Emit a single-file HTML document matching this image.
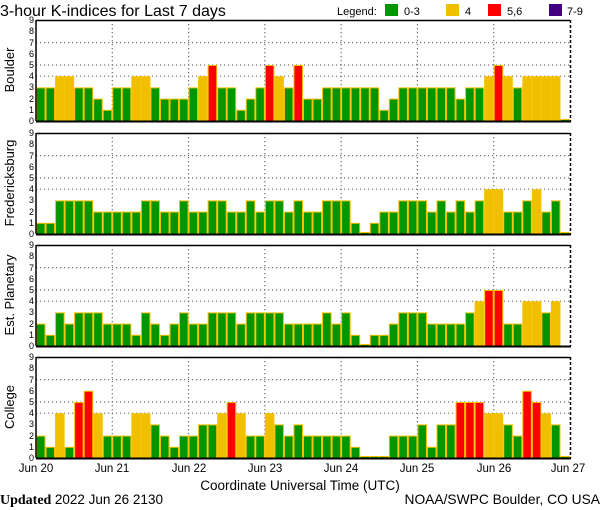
<!DOCTYPE html>
<html><head><meta charset="utf-8"><style>
html,body{margin:0;padding:0;background:#fff;}
svg{display:block;font-family:"Liberation Sans",sans-serif;}
</style></head><body>
<svg id="s" width="600" height="510" xmlns="http://www.w3.org/2000/svg">
<rect width="600" height="510" fill="#fff"/>
<g id="bars"></g>
<text x="0" y="16" font-size="16">3-hour K-indices for Last 7 days</text>
<text x="337" y="15" font-size="11">Legend:</text>
<rect x="385" y="4" width="13" height="12" fill="#009600"/><text x="404" y="15" font-size="11">0-3</text>
<rect x="446" y="4" width="13" height="12" fill="#f0c000"/><text x="465" y="15" font-size="11">4</text>
<rect x="488" y="4" width="13" height="12" fill="#ff0000"/><text x="507" y="15" font-size="11">5,6</text>
<rect x="549" y="4" width="13" height="12" fill="#400080"/><text x="567" y="15" font-size="11">7-9</text>
<g font-size="13" text-anchor="middle">
<text transform="translate(14,70) rotate(-90)">Boulder</text>
<text transform="translate(14,183) rotate(-90)">Fredericksburg</text>
<text transform="translate(14,295) rotate(-90)">Est. Planetary</text>
<text transform="translate(14,407) rotate(-90)">College</text>
</g>
<g font-size="9" text-anchor="end" id="ylab">
<text x="34" y="124">0</text><text x="34" y="113">1</text><text x="34" y="102">2</text><text x="34" y="90">3</text><text x="34" y="79">4</text><text x="34" y="68">5</text><text x="34" y="57">6</text><text x="34" y="46">7</text><text x="34" y="34">8</text><text x="34" y="23">9</text>
<text x="34" y="237">0</text><text x="34" y="226">1</text><text x="34" y="215">2</text><text x="34" y="203">3</text><text x="34" y="192">4</text><text x="34" y="181">5</text><text x="34" y="170">6</text><text x="34" y="159">7</text><text x="34" y="147">8</text><text x="34" y="136">9</text>
<text x="34" y="349">0</text><text x="34" y="338">1</text><text x="34" y="327">2</text><text x="34" y="315">3</text><text x="34" y="304">4</text><text x="34" y="293">5</text><text x="34" y="282">6</text><text x="34" y="271">7</text><text x="34" y="259">8</text><text x="34" y="248">9</text>
<text x="34" y="461">0</text><text x="34" y="450">1</text><text x="34" y="439">2</text><text x="34" y="427">3</text><text x="34" y="416">4</text><text x="34" y="405">5</text><text x="34" y="394">6</text><text x="34" y="383">7</text><text x="34" y="371">8</text><text x="34" y="360">9</text>
</g>
<g font-size="11.5" text-anchor="middle">
<text x="36" y="472">Jun 20</text><text x="112" y="472">Jun 21</text><text x="189" y="472">Jun 22</text><text x="265" y="472">Jun 23</text><text x="341" y="472">Jun 24</text><text x="417" y="472">Jun 25</text><text x="494" y="472">Jun 26</text><text x="568" y="472">Jun 27</text>
<text x="300" y="490" font-size="13.5">Coordinate Universal Time (UTC)</text>
</g>
<text x="0" y="504" font-size="14" font-family="Liberation Serif,serif"><tspan font-weight="bold">Updated</tspan> <tspan font-family="Liberation Sans,sans-serif" font-size="13.5">2022 Jun 26 2130</tspan></text>
<text x="600" y="504" font-size="13.8" text-anchor="end">NOAA/SWPC Boulder, CO USA</text>
</svg>
<script>
var D=[
[3,3,4,4,3,3,2,1, 3,3,4,4,3,2,2,2, 3,4,5,3,3,1,2,3, 5,4,3,5,2,2,3,3, 3,3,3,3,1,2,3,3, 3,3,3,3,2,3,3,4, 5,4,3,4,4,4,4,0],
[1,1,3,3,3,3,2,2, 2,2,2,3,3,2,2,3, 2,2,3,3,2,2,3,2, 3,3,2,3,2,2,3,3, 3,1,0,1,2,2,3,3, 3,2,3,2,3,2,3,4, 4,2,2,3,4,2,3,0],
[2,1,3,2,3,3,3,2, 2,2,1,3,2,1,2,3, 2,2,3,3,3,2,3,3, 3,3,2,2,2,2,3,2, 3,1,0,1,1,2,3,3, 3,2,2,2,2,3,4,5, 5,2,2,4,4,3,4,-1],
[2,1,4,1,5,6,4,2, 2,2,4,4,3,2,1,2, 2,3,3,4,5,4,2,2, 4,3,2,3,2,2,2,2, 2,1,0,0,0,2,2,2, 3,1,3,3,5,5,5,4, 4,3,2,6,5,4,3,0]];
var B=[121,234,346,458],U=11.2,X0=36,W=534/56,g=document.getElementById('bars'),h='';
function col(v){return v<=3?'#009600':v==4?'#f0c000':v<=6?'#ff0000':'#400080';}
for(var p=0;p<4;p++){var b=B[p],t=b-101;
 h+='<rect x="36" y="'+t+'" width="534" height="101" fill="#fff"/>';
 [4,5,7].forEach(function(k){var y=b-k*U;h+='<line x1="36" x2="570" y1="'+y+'" y2="'+y+'" stroke="#707070" stroke-width="1.2" stroke-dasharray="1.2,2.8"/>';});
 for(var d=1;d<7;d++){var x=X0+d*W*8;h+='<line x1="'+x+'" x2="'+x+'" y1="'+t+'" y2="'+b+'" stroke="#707070" stroke-width="1.2" stroke-dasharray="1.2,2.8"/>';}
 for(var i=0;i<56;i++){var v=D[p][i];if(v<0)continue;var x=X0+i*W,hh=v==0?2:v*U;
  h+='<rect x="'+(x+0.5)+'" y="'+(b-hh+0.5)+'" width="'+(W-1)+'" height="'+(hh-0.5)+'" fill="'+col(v)+'" stroke="#f5c000" stroke-width="1"/>';}
 h+='<line x1="36" x2="570" y1="'+(t+0.5)+'" y2="'+(t+0.5)+'" stroke="#000" stroke-width="1.5"/>';
 h+='<line x1="36" x2="36" y1="'+t+'" y2="'+b+'" stroke="#000" stroke-width="1.5"/>';
 h+='<line x1="570.5" x2="570.5" y1="'+t+'" y2="'+b+'" stroke="#000" stroke-width="1.5" stroke-dasharray="3,2"/>';
 h+='<line x1="36" x2="571" y1="'+(b+0.5)+'" y2="'+(b+0.5)+'" stroke="#000" stroke-width="2"/>';
}
g.innerHTML=h;
</script>
</body></html>
